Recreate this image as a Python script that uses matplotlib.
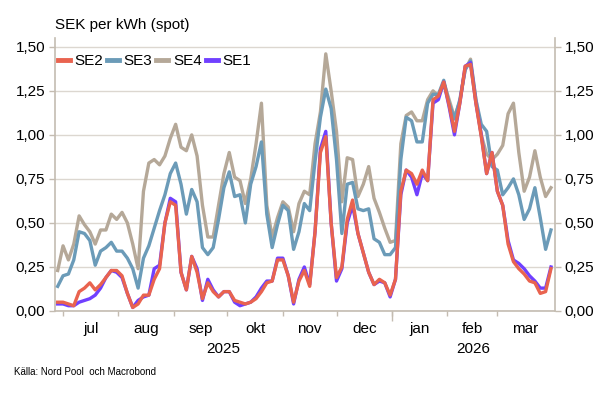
import numpy as np
import pandas as pd
import matplotlib
matplotlib.use("Agg")
import matplotlib.pyplot as plt
import matplotlib.dates as mdates
from matplotlib.transforms import blended_transform_factory

# spot price, SEK per kWh, every third day
dates = pd.date_range("2025-06-28", periods=93, freq="3D")

se4 = [0.23, 0.37, 0.29, 0.38, 0.54, 0.49, 0.45, 0.38, 0.46, 0.46,
       0.55, 0.52, 0.56, 0.50, 0.38, 0.24, 0.68, 0.84, 0.86, 0.83,
       0.88, 0.98, 1.06, 0.93, 0.91, 1.00, 0.88, 0.60, 0.42, 0.42,
       0.60, 0.78, 0.90, 0.76, 0.74, 0.61, 0.75, 0.95, 1.18, 0.60,
       0.42, 0.53, 0.62, 0.59, 0.45, 0.61, 0.68, 0.66, 0.95, 1.13,
       1.46, 1.25, 1.02, 0.62, 0.87, 0.86, 0.65, 0.72, 0.82, 0.64,
       0.56, 0.47, 0.39, 0.40, 0.95, 1.11, 1.13, 1.08, 1.08, 1.20,
       1.25, 1.22, 1.30, 1.20, 1.10, 1.19, 1.37, 1.43, 1.20, 1.00,
       0.89, 0.86, 0.89, 0.94, 1.12, 1.18, 0.90, 0.68, 0.76, 0.91,
       0.76, 0.65, 0.70]

se3 = [0.14, 0.20, 0.21, 0.29, 0.45, 0.44, 0.40, 0.26, 0.34, 0.36,
       0.39, 0.34, 0.34, 0.30, 0.24, 0.13, 0.30, 0.37, 0.47, 0.57,
       0.66, 0.78, 0.84, 0.72, 0.55, 0.69, 0.62, 0.36, 0.32, 0.36,
       0.52, 0.70, 0.79, 0.65, 0.66, 0.50, 0.72, 0.82, 0.96, 0.55,
       0.36, 0.49, 0.60, 0.57, 0.35, 0.45, 0.61, 0.57, 0.85, 1.10,
       1.26, 1.15, 0.86, 0.44, 0.72, 0.73, 0.58, 0.57, 0.58, 0.41,
       0.39, 0.32, 0.32, 0.36, 0.86, 1.10, 1.08, 0.96, 0.96, 1.18,
       1.23, 1.23, 1.31, 1.18, 1.09, 1.20, 1.37, 1.42, 1.20, 1.06,
       1.02, 0.82, 0.80, 0.66, 0.70, 0.75, 0.66, 0.52, 0.58, 0.70,
       0.53, 0.35, 0.46]

se2 = [0.05, 0.05, 0.04, 0.03, 0.11, 0.13, 0.16, 0.12, 0.15, 0.19,
       0.23, 0.23, 0.20, 0.10, 0.02, 0.04, 0.09, 0.09, 0.18, 0.24,
       0.50, 0.62, 0.60, 0.22, 0.12, 0.31, 0.22, 0.07, 0.16, 0.11,
       0.08, 0.11, 0.11, 0.06, 0.05, 0.04, 0.05, 0.07, 0.11, 0.16,
       0.17, 0.29, 0.29, 0.20, 0.05, 0.17, 0.23, 0.14, 0.45, 0.90,
       0.99, 0.50, 0.19, 0.25, 0.52, 0.63, 0.44, 0.33, 0.22, 0.15,
       0.18, 0.16, 0.09, 0.18, 0.68, 0.80, 0.78, 0.72, 0.80, 0.74,
       1.20, 1.22, 1.30, 1.17, 1.02, 1.18, 1.39, 1.40, 1.18, 0.99,
       0.78, 0.90, 0.68, 0.60, 0.38, 0.28, 0.24, 0.21, 0.17, 0.16,
       0.10, 0.11, 0.24]

se1 = [0.04, 0.04, 0.03, 0.03, 0.05, 0.06, 0.07, 0.09, 0.13, 0.19,
       0.23, 0.22, 0.19, 0.10, 0.02, 0.06, 0.08, 0.09, 0.24, 0.26,
       0.50, 0.64, 0.62, 0.22, 0.12, 0.31, 0.24, 0.06, 0.18, 0.12,
       0.08, 0.11, 0.11, 0.05, 0.03, 0.04, 0.05, 0.08, 0.13, 0.17,
       0.17, 0.30, 0.30, 0.20, 0.04, 0.18, 0.25, 0.15, 0.45, 0.92,
       1.02, 0.50, 0.17, 0.24, 0.50, 0.60, 0.44, 0.33, 0.22, 0.15,
       0.17, 0.16, 0.08, 0.18, 0.66, 0.80, 0.76, 0.66, 0.78, 0.74,
       1.18, 1.20, 1.30, 1.16, 1.00, 1.18, 1.39, 1.41, 1.18, 1.00,
       0.78, 0.90, 0.68, 0.60, 0.40, 0.29, 0.27, 0.24, 0.20, 0.17,
       0.13, 0.13, 0.25]

month_labels = ["jul", "aug", "sep", "okt", "nov", "dec", "jan", "feb", "mar"]
year_labels = ["2025", "2026"]

COLORS = {
    "SE2": "#e9634f",
    "SE3": "#6b9bb8",
    "SE4": "#b5a898",
    "SE1": "#7040ff",
}
SPINE = "#c4bcb1"
GRID = "#dcd7d0"

plt.rcParams["font.family"] = ["Liberation Sans", "DejaVu Sans"]

fig = plt.figure(figsize=(6.15, 3.98), dpi=100)
ax = fig.add_axes([55 / 615, 1 - 311 / 398, 500 / 615, 273 / 398])

series = {"SE4": se4, "SE3": se3, "SE1": se1, "SE2": se2}
lines = {}
for z, (name, vals) in enumerate(series.items()):
    (ln,) = ax.plot(dates, vals, color=COLORS[name], lw=2.4, zorder=3 + z,
                    solid_joinstyle="round", label=name)
    lines[name] = ln

x0 = pd.Timestamp("2025-06-26 12:00")
x1 = pd.Timestamp("2026-04-02 06:00")
ax.set_xlim(x0, x1)
ax.set_ylim(0, 1.55)

# y axis on both sides
yt = np.arange(0, 1.51, 0.25)
ax.set_yticks(yt)
ax.set_yticklabels([f"{v:.2f}".replace(".", ",") for v in yt])
ax.tick_params(axis="y", left=True, right=True, labelleft=True, labelright=True,
               length=4, width=1, color=SPINE, labelsize=11, pad=3)
ax.grid(axis="y", color=GRID, lw=1, zorder=0)

# month ticks and labels
month_starts = pd.date_range("2025-07-01", "2026-03-01", freq="MS")
ax.set_xticks(month_starts)
ax.set_xticklabels([])
ax.tick_params(axis="x", which="major", length=3.5, width=1, color=SPINE)
mids = [m + (m + pd.offsets.MonthBegin(1) - m) / 2 for m in month_starts]
ax.set_xticks(mids, minor=True)
ax.set_xticklabels(month_labels, minor=True)
ax.tick_params(axis="x", which="minor", length=0, labelsize=11, pad=8)

# longer tick at the year boundary
sec = ax.secondary_xaxis("bottom")
sec.set_xticks([pd.Timestamp("2026-01-01")])
sec.set_xticklabels([""])
sec.tick_params(length=7, width=1, color=SPINE)
sec.spines["bottom"].set_visible(False)

# year labels centred under each year's span
tr = blended_transform_factory(ax.transData, ax.transAxes)
jan1 = pd.Timestamp("2026-01-01")
year_centres = [x0 + (jan1 - x0) / 2, jan1 + (x1 - jan1) / 2]
for c, lab in zip(year_centres, year_labels):
    ax.text(c, -0.115, lab, transform=tr, ha="center", va="top", fontsize=11)

for s in ["left", "right", "bottom"]:
    ax.spines[s].set_color(SPINE)
    ax.spines[s].set_linewidth(1.2)
ax.spines["top"].set_visible(False)

order = ["SE2", "SE3", "SE4", "SE1"]
leg = ax.legend([lines[n] for n in order], order, loc="center left",
                bbox_to_anchor=(0.005, 0.915), ncol=4, frameon=False,
                fontsize=11, handlelength=0.8, handletextpad=0.3,
                columnspacing=0.25, borderpad=0, borderaxespad=0)
for h in leg.legend_handles:
    h.set_linewidth(3.5)

fig.text(55 / 615, 1 - 25 / 398, "SEK per kWh (spot)", fontsize=11,
         ha="left", va="center")
fig.text(14 / 615, 1 - 372 / 398, "Källa: Nord Pool  och Macrobond",
         fontsize=7, ha="left", va="center")

fig.savefig("out.png", dpi=100)
